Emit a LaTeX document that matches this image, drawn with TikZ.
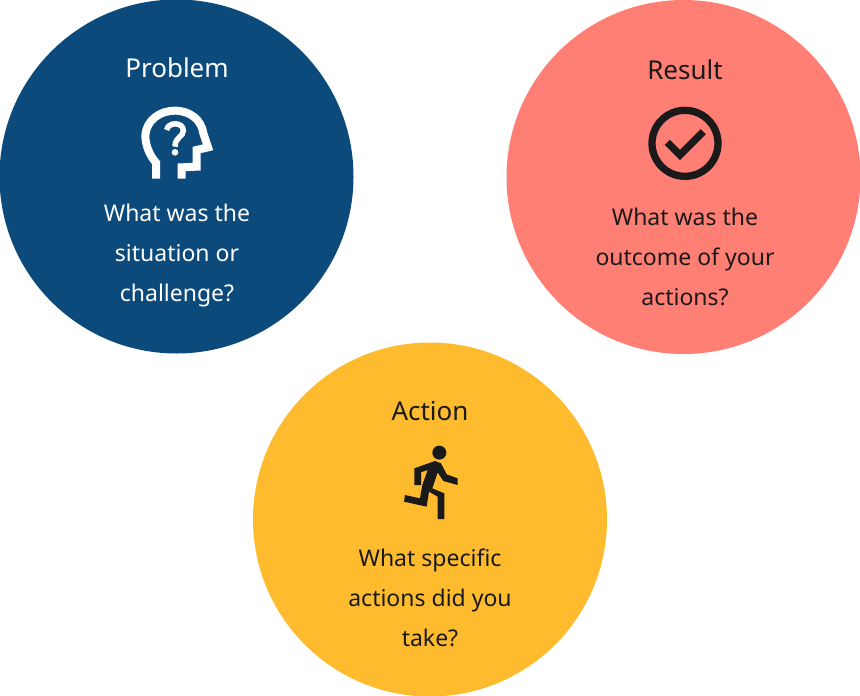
\documentclass[tikz,border=0pt]{standalone}
\usepackage{fontspec}
\setmainfont{Noto Sans}
\usepackage{tikz}
\definecolor{navy}{HTML}{0D4A7C}
\definecolor{salmon}{HTML}{FF7F75}
\definecolor{amber}{HTML}{FFBB2E}
\definecolor{ink}{HTML}{1A1A1A}
\tikzset{
  bubble/.style={circle,inner sep=0pt,minimum size=354pt},
  heading/.style={font=\fontsize{26}{26}\selectfont\bfseries,inner sep=0pt},
  question/.style={font=\fontsize{23}{40}\selectfont,align=center,inner sep=0pt},
}
\begin{document}
\begin{tikzpicture}[x=1pt,y=-1pt]
    \useasboundingbox (0,0) rectangle (860,696);
    \node[bubble,fill=navy] (problem) at (176.5,176.5) {};
    \node[bubble,fill=salmon] (result) at (683.5,177) {};
    \node[bubble,fill=amber] (action) at (430,519.5) {};
    \node[heading,white] (problemtitle) at (177,68) {Problem};
    \node[heading,ink] (resulttitle) at (685,70) {Result};
    \node[heading,ink] (actiontitle) at (430,411) {Action};
    \node[question,white] (problemtext) at (177,256) {What was the\\situation or\\challenge?};
    \node[question,ink] (resulttext) at (685,257) {What was the\\outcome of your\\actions?};
    \node[question,ink] (actiontext) at (430,598) {What specific\\actions did you\\take?};
    \begin{scope}[shift={(120,90)},scale=1/3]
      \draw[white,line width=8pt,miter limit=3] (108,266) -- (108,218) .. controls (88,195) and (76,165) .. (76,135) .. controls (80,90) and (120,62) .. (165,62) .. controls (212,62) and (245,92) .. (250,130) -- (264,172) -- (230,180) -- (230,230) -- (185,232) -- (185,266);
      \draw[white,line width=5.5pt] (140,120) .. controls (144,95) and (190,95) .. (190,122) .. controls (190,142) and (165,140) .. (165,170);
      \fill[white] (165,187) circle[radius=10];
    \end{scope}
    \begin{scope}[shift={(630,90)},scale=1/3]
      \draw[ink,line width=7.3pt] (165,160) circle[radius=99];
      \draw[ink,line width=7.3pt] (112,157) -- (150,195) -- (220,125);
    \end{scope}
    \begin{scope}[shift={(385,435)},scale=1/3]
      \fill[ink] (163,53) circle[radius=21];
      \fill[ink] (88,100) -- (150,78) -- (168,85) -- (185,118) -- (218,130) -- (218,150) -- (175,138) -- (158,112) -- (142,160) -- (178,175) -- (178,252) -- (158,252) -- (158,185) -- (132,170) -- (125,215) -- (57,200) -- (60,180) -- (105,190) -- (112,150) -- (128,105) -- (108,112) -- (108,150) -- (88,150) -- cycle;
    \end{scope}
\end{tikzpicture}
\end{document}
